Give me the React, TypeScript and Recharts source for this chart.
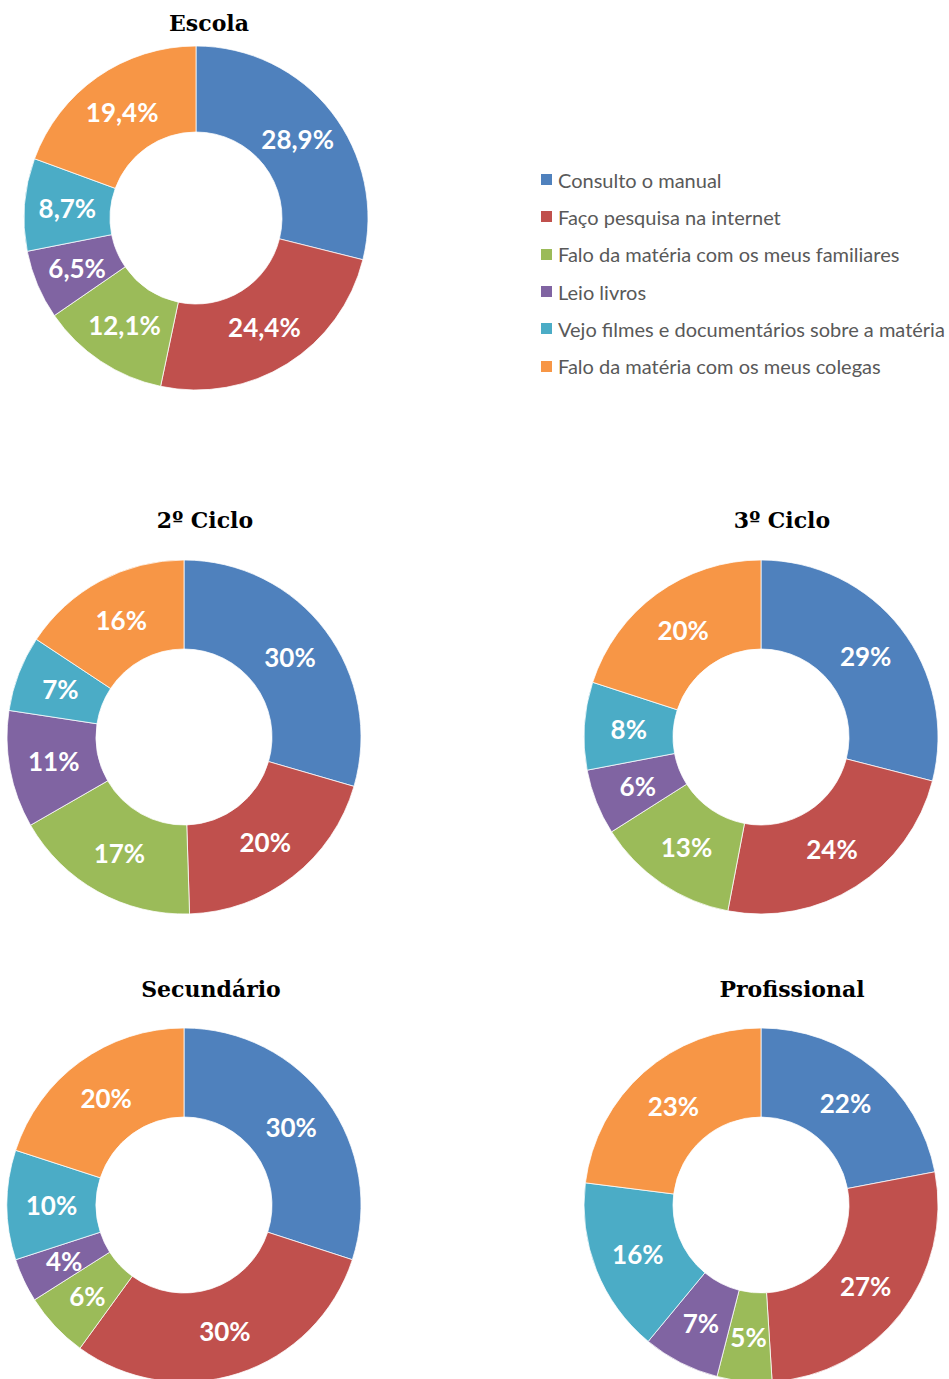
import React from "react";
import { PieChart, Pie, Cell } from "recharts";

const categories = [
  "Consulto o manual",
  "Faço pesquisa na internet",
  "Falo da matéria com os meus familiares",
  "Leio livros",
  "Vejo filmes e documentários sobre a matéria",
  "Falo da matéria com os meus colegas",
];
const colors = ["#4F81BD", "#C0504D", "#9BBB59", "#8064A2", "#4BACC6", "#F79646"];

const escola = [28.9, 24.4, 12.1, 6.5, 8.7, 19.4];
const ciclo2 = [29.5, 20, 17.2, 10.7, 6.9, 15.7];
const ciclo3 = [29, 24, 13, 6, 8, 20];
const secundario = [30, 30, 6, 4, 10, 20];
const profissional = [22, 27, 5, 7, 16, 23];

const titles = ["Escola", "2º Ciclo", "3º Ciclo", "Secundário", "Profissional"];

const toData = (vals: number[]) => vals.map((v, i) => ({ name: categories[i], value: v }));

const RAD = Math.PI / 180;

const makeLabel = (decimals: number) => (props: any) => {
  const { cx, cy, midAngle, innerRadius, outerRadius, value } = props;
  const r = (innerRadius + outerRadius) / 2;
  const x = cx + r * Math.cos(-midAngle * RAD);
  const y = cy + r * Math.sin(-midAngle * RAD);
  const txt =
    (decimals ? Number(value).toFixed(decimals).replace(".", ",") : String(Math.round(Number(value)))) + "%";
  return (
    <text
      x={x}
      y={y}
      fill="#FFFFFF"
      textAnchor="middle"
      dominantBaseline="central"
      style={{ fontFamily: "Lato, 'Open Sans', sans-serif", fontWeight: 700, fontSize: 26 }}
    >
      {txt}
    </text>
  );
};

const pies = [
  { vals: escola, cx: 196, cy: 218, inner: 86, outer: 172, dec: 1, tx: 209, ty: 23 },
  { vals: ciclo2, cx: 184, cy: 737, inner: 88, outer: 177, dec: 0, tx: 205, ty: 520 },
  { vals: ciclo3, cx: 761, cy: 737, inner: 88, outer: 177, dec: 0, tx: 782, ty: 520 },
  { vals: secundario, cx: 184, cy: 1205, inner: 88, outer: 177, dec: 0, tx: 211, ty: 989 },
  { vals: profissional, cx: 761, cy: 1205, inner: 88, outer: 177, dec: 0, tx: 792, ty: 989 },
];

export default function App() {
  return (
    <div
      style={{
        position: "absolute",
        left: 0,
        top: 0,
        width: 949,
        height: 1379,
        overflow: "hidden",
        background: "#FFFFFF",
      }}
    >
      <div style={{ position: "absolute", left: 0, top: 0 }}>
        <PieChart width={949} height={1379} margin={{ top: 0, right: 0, bottom: 0, left: 0 }}>
          {pies.map((p, k) => (
            <Pie
              key={k}
              data={toData(p.vals)}
              dataKey="value"
              nameKey="name"
              cx={p.cx}
              cy={p.cy}
              innerRadius={p.inner}
              outerRadius={p.outer}
              startAngle={90}
              endAngle={-270}
              stroke="#FFFFFF"
              strokeWidth={0.75}
              label={makeLabel(p.dec)}
              labelLine={false}
              isAnimationActive={false}
            >
              {p.vals.map((_, i) => (
                <Cell key={i} fill={colors[i]} />
              ))}
            </Pie>
          ))}
        </PieChart>
      </div>
      {pies.map((p, k) => (
        <div
          key={"t" + k}
          style={{
            position: "absolute",
            left: p.tx - 150,
            top: p.ty - 14,
            width: 300,
            textAlign: "center",
            fontFamily: "'DejaVu Serif', serif",
            fontWeight: 700,
            fontSize: 22,
            lineHeight: "28px",
            color: "#000000",
          }}
        >
          {titles[k]}
        </div>
      ))}
      <div style={{ position: "absolute", left: 541, top: 161 }}>
        {categories.map((c, i) => (
          <div
            key={c}
            style={{
              display: "flex",
              alignItems: "center",
              height: 37.3,
              fontFamily: "Lato, 'Open Sans', sans-serif",
              fontSize: 20,
              color: "#595959",
              whiteSpace: "nowrap",
            }}
          >
            <span
              style={{
                display: "inline-block",
                width: 11,
                height: 11,
                background: colors[i],
                marginRight: 6,
              }}
            />
            {c}
          </div>
        ))}
      </div>
    </div>
  );
}
